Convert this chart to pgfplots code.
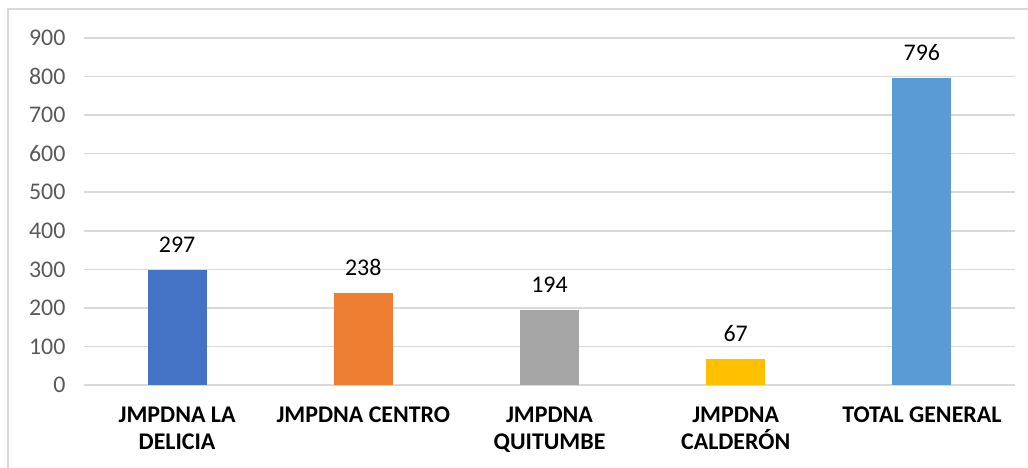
\documentclass[border=0pt]{standalone}
\usepackage{fontspec}
\setmainfont{Carlito}
\usepackage{pgfplots}
\pgfplotsset{compat=1.18}
\definecolor{c1}{HTML}{4472C4}
\definecolor{c2}{HTML}{ED7D31}
\definecolor{c3}{HTML}{A5A5A5}
\definecolor{c4}{HTML}{FFC000}
\definecolor{c5}{HTML}{5B9BD5}
\definecolor{gridc}{HTML}{D9D9D9}
\definecolor{tickc}{HTML}{595959}
\begin{document}
\begin{tikzpicture}
\useasboundingbox (0,0) rectangle (1028bp,468bp);
\draw[gridc, line width=1.5bp] (8bp,0) -- (8bp,459bp) -- (1028bp,459bp);
\begin{axis}[
  at={(84bp,83bp)}, anchor=south west,
  scale only axis, width=931bp, height=347bp,
  ybar, bar width=59bp, bar shift=0pt,
  xmin=-0.5, xmax=4.5, ymin=0, ymax=900,
  ytick={0,100,...,900},
  xtick={0,1,2,3,4},
  xticklabels={JMPDNA LA\\DELICIA, JMPDNA CENTRO, JMPDNA\\QUITUMBE, JMPDNA\\CALDERÓN, TOTAL GENERAL},
  x tick label style={font=\fontsize{24}{28}\selectfont\bfseries, align=center, text=black, anchor=north, yshift=-18bp},
  y tick label style={font=\fontsize{24}{26}\selectfont, text=tickc, xshift=-15bp},
  /pgf/number format/assume math mode=true,
  axis line style={draw=none},
  major tick length=0pt,
  ymajorgrids, grid style={gridc, line width=1.5bp},
  nodes near coords,
  nodes near coords style={font=\fontsize{24}{26}\selectfont, text=black, yshift=14bp},
]
\addplot[fill=c1, draw=none] coordinates {(0,297)};
\addplot[fill=c2, draw=none] coordinates {(1,238)};
\addplot[fill=c3, draw=none] coordinates {(2,194)};
\addplot[fill=c4, draw=none] coordinates {(3,67)};
\addplot[fill=c5, draw=none] coordinates {(4,796)};
\end{axis}
\end{tikzpicture}
\end{document}
